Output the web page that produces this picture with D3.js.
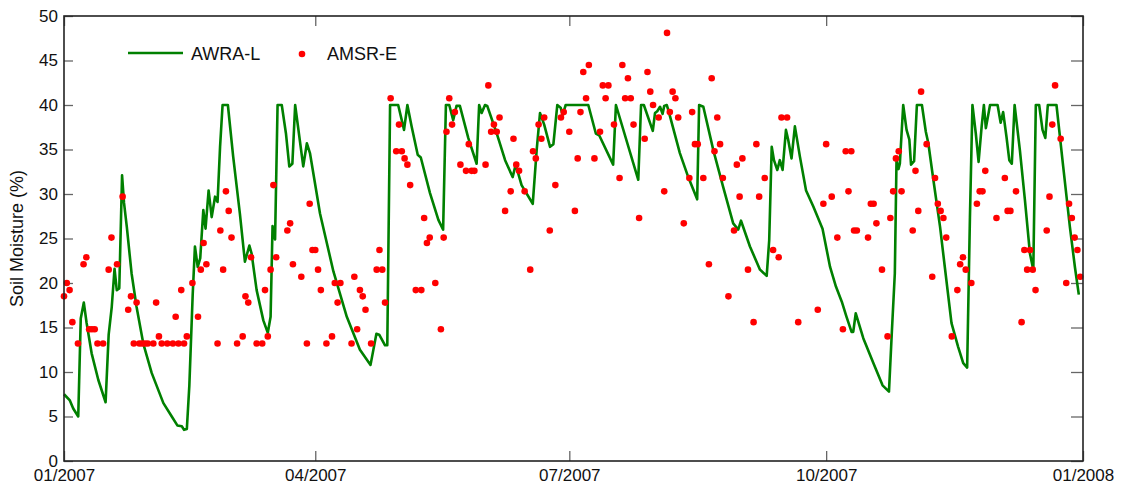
<!DOCTYPE html>
<html>
<head>
<meta charset="utf-8">
<script src="https://cdn.jsdelivr.net/npm/d3@7"></script>
<style>
	html, body { margin: 0; padding: 0; background: #fff; }
	svg { display: block; font-family: 'Liberation Sans', Arial, sans-serif; }
</style>
</head>
<body>
<div id="chart"></div>
<script>
// AWRA-L modelled soil moisture (day of 2007, value %)
const awraDays = [0, 2.1, 3.3, 5.1, 6.0, 7.1, 8.1, 9.9, 12.3, 14.9, 16.0, 17.1, 18.1, 18.9, 19.8, 20.8, 21.5, 22.5, 24.2, 26.0, 28.4, 31.4, 35.6, 38.6, 40.6, 42.2, 43.0, 44.0, 44.9, 46.1, 46.9, 47.9, 48.8, 49.9, 50.7, 51.8, 52.9, 54.1, 55.0, 55.9, 56.8, 58.7, 60.6, 63.0, 64.8, 66.4, 67.2, 69.0, 71.4, 73.0, 74.0, 74.7, 75.6, 76.5, 78.0, 79.5, 80.7, 81.8, 82.8, 85.7, 87.0, 88.1, 91.7, 96.5, 101.3, 106.0, 109.8, 111.9, 112.9, 115.0, 115.8, 116.8, 119.7, 121.8, 123.0, 124.5, 126.7, 127.8, 131.1, 134.1, 135.8, 136.8, 138.0, 139.4, 140.6, 141.8, 144.8, 147.8, 148.7, 149.6, 150.8, 151.6, 155.0, 158.0, 160.7, 161.8, 163.9, 167.9, 169.3, 170.5, 172.0, 174.1, 175.3, 176.7, 177.9, 178.6, 179.7, 187.8, 190.5, 191.7, 196.7, 197.7, 205.7, 206.7, 207.7, 210.9, 211.7, 212.5, 213.5, 214.4, 215.0, 215.9, 216.5, 220.6, 223.6, 226.8, 227.5, 229.0, 232.6, 236.1, 239.7, 241.5, 242.5, 245.7, 249.3, 251.7, 252.6, 253.5, 254.3, 255.5, 256.4, 257.4, 258.6, 259.4, 260.6, 261.8, 263.6, 265.8, 268.4, 271.7, 274.4, 276.5, 278.6, 280.3, 282.1, 282.7, 283.6, 286.3, 289.9, 293.2, 295.5, 296.5, 297.6, 298.2, 298.9, 299.4, 300.6, 301.8, 302.8, 303.4, 304.5, 305.5, 307.3, 308.7, 309.6, 311.4, 313.8, 315.5, 317.9, 320.3, 322.1, 323.5, 324.5, 325.4, 326.6, 327.6, 328.7, 329.5, 330.2, 331.7, 334.4, 335.5, 336.4, 337.6, 338.6, 339.5, 340.5, 342.4, 344.2, 346.0, 347.2, 348.1, 349.3, 350.5, 351.5, 352.4, 355.5, 357.9, 360.3, 362.1, 363.5]
const awraValues = [7.5, 6.8, 5.9, 5.0, 16.0, 17.8, 15.5, 12.1, 9.1, 6.6, 14.2, 17.3, 21.6, 19.2, 19.4, 32.1, 29.0, 26.3, 21.1, 17.3, 13.2, 9.9, 6.5, 5.0, 4.0, 3.9, 3.5, 3.6, 8.5, 18.7, 24.1, 21.8, 22.8, 28.2, 26.1, 30.4, 27.4, 29.7, 29.1, 35.3, 40.0, 40.0, 34.2, 27.8, 22.4, 24.2, 23.3, 19.2, 15.8, 14.4, 16.2, 26.4, 24.9, 40.0, 40.0, 36.8, 33.1, 33.4, 40.0, 33.1, 35.7, 34.6, 27.8, 21.3, 16.2, 12.5, 10.8, 14.3, 14.2, 13.0, 13.0, 40.0, 40.0, 37.2, 40.0, 37.6, 34.4, 34.1, 30.1, 27.1, 26.0, 40.0, 40.0, 38.3, 39.9, 39.9, 36.3, 33.4, 40.0, 39.1, 40.0, 39.9, 36.8, 33.8, 31.9, 33.3, 31.0, 28.9, 34.9, 39.1, 37.8, 35.3, 35.6, 40.0, 39.7, 38.9, 40.0, 40.0, 36.8, 36.6, 33.3, 40.0, 31.6, 40.0, 40.0, 37.1, 39.1, 39.3, 39.8, 39.0, 39.9, 40.0, 39.4, 34.6, 31.9, 29.4, 40.0, 39.8, 34.9, 30.8, 26.7, 26.0, 27.0, 24.1, 21.5, 20.8, 24.8, 35.3, 33.8, 32.7, 33.8, 32.7, 37.2, 36.1, 34.0, 37.6, 34.2, 30.4, 28.6, 26.1, 21.8, 19.6, 17.9, 16.2, 14.5, 14.5, 16.6, 13.8, 11.0, 8.5, 7.8, 14.3, 21.1, 33.8, 32.8, 33.4, 40.0, 37.2, 36.1, 33.3, 33.7, 40.0, 40.0, 37.0, 35.7, 31.6, 26.3, 21.8, 15.5, 12.8, 11.0, 10.5, 27.4, 40.0, 36.8, 33.6, 37.6, 40.0, 37.4, 40.0, 40.0, 38.0, 39.2, 36.4, 33.8, 33.4, 40.0, 34.9, 29.3, 23.3, 21.5, 40.0, 40.0, 37.2, 36.3, 40.0, 40.0, 33.1, 26.3, 21.8, 18.7]

// AMSR-E retrievals (day of 2007, value %)
const amsrDays = [0, 1, 2, 3, 5, 7, 8, 9, 10, 11, 12, 14, 16, 17, 19, 21, 23, 24, 25, 26, 27, 28, 29, 30, 32, 33, 34, 35, 37, 39, 40, 41, 42, 43, 44, 46, 48, 49, 50, 51, 55, 56, 57, 58, 59, 60, 62, 64, 65, 66, 67, 69, 71, 72, 73, 74, 75, 76, 80, 81, 82, 85, 87, 88, 89, 90, 91, 92, 94, 96, 97, 98, 99, 103, 104, 105, 106, 107, 108, 110, 112, 113, 114, 115, 117, 119, 120, 121, 122, 123, 124, 126, 128, 129, 130, 131, 133, 135, 136, 137, 138, 139, 140, 142, 144, 145, 146, 147, 151, 152, 153, 154, 155, 156, 158, 160, 161, 162, 163, 165, 167, 168, 169, 170, 171, 172, 174, 176, 178, 179, 181, 183, 184, 185, 186, 187, 188, 190, 192, 193, 194, 195, 197, 199, 200, 201, 202, 203, 204, 206, 208, 209, 210, 211, 213, 215, 216, 217, 218, 219, 220, 222, 224, 225, 226, 227, 229, 231, 232, 233, 234, 235, 236, 238, 240, 241, 242, 243, 245, 247, 248, 249, 251, 254, 256, 257, 259, 263, 270, 272, 273, 275, 277, 279, 280, 281, 282, 283, 284, 288, 289, 290, 291, 293, 295, 296, 297, 298, 299, 300, 304, 305, 306, 307, 309, 311, 312, 313, 314, 315, 316, 318, 320, 321, 322, 323, 325, 327, 328, 329, 330, 334, 337, 338, 339, 341, 343, 344, 345, 346, 347, 348, 352, 353, 354, 355, 357, 359, 360, 361, 362, 363, 364]
const amsrValues = [18.5, 20.0, 19.2, 15.6, 13.2, 22.1, 22.9, 14.8, 14.8, 14.8, 13.2, 13.2, 21.5, 25.1, 22.1, 29.7, 17.0, 18.5, 13.2, 17.8, 13.2, 13.2, 13.2, 13.2, 13.2, 17.8, 14.0, 13.2, 13.2, 13.2, 16.2, 13.2, 19.2, 13.2, 14.0, 20.0, 16.2, 21.5, 24.5, 22.1, 13.2, 25.9, 21.5, 30.3, 28.1, 25.1, 13.2, 14.0, 18.5, 17.8, 22.9, 13.2, 13.2, 19.2, 14.0, 21.5, 31.0, 22.9, 25.9, 26.7, 22.1, 20.7, 13.2, 28.9, 23.7, 23.7, 21.5, 19.2, 13.2, 14.0, 20.0, 17.8, 20.0, 13.2, 20.7, 14.8, 19.2, 18.5, 17.0, 13.2, 21.5, 23.7, 21.5, 17.8, 40.75, 34.8, 37.8, 34.8, 34.0, 33.3, 31.0, 19.2, 19.2, 27.3, 24.5, 25.1, 20.0, 14.8, 25.1, 37.0, 40.75, 37.8, 39.2, 33.3, 32.6, 35.6, 32.6, 32.6, 33.3, 42.2, 37.0, 37.8, 37.0, 38.6, 28.1, 30.3, 36.2, 33.3, 32.6, 30.3, 21.5, 34.8, 34.0, 37.8, 36.2, 38.6, 25.9, 31.0, 38.6, 39.2, 37.0, 28.1, 34.0, 39.2, 43.7, 40.75, 44.5, 34.0, 37.0, 42.2, 40.75, 42.2, 37.8, 31.8, 44.5, 40.75, 43.0, 40.75, 37.8, 27.3, 36.2, 43.7, 41.5, 40.0, 38.6, 30.3, 48.1, 39.2, 41.5, 40.75, 38.6, 26.7, 31.8, 39.2, 35.6, 35.6, 31.8, 22.1, 43.0, 34.8, 38.6, 35.6, 31.8, 18.5, 25.9, 33.3, 29.7, 34.0, 21.5, 15.6, 35.6, 29.7, 31.8, 23.7, 22.9, 38.6, 38.6, 15.6, 17.0, 28.9, 35.6, 29.7, 25.1, 14.8, 34.8, 30.3, 34.8, 25.9, 25.9, 25.1, 28.9, 28.9, 26.7, 21.5, 14.0, 27.3, 30.3, 34.0, 34.8, 30.3, 25.9, 32.6, 28.1, 41.5, 35.6, 20.7, 31.8, 28.9, 28.1, 27.3, 25.1, 14.0, 19.2, 22.1, 22.9, 21.5, 20.0, 28.9, 30.3, 30.3, 32.6, 27.3, 31.8, 28.1, 28.1, 30.3, 15.6, 23.7, 21.5, 23.7, 21.5, 19.2, 25.9, 29.7, 37.8, 42.2, 36.2, 20.0, 28.9, 27.3, 25.1, 23.7, 20.7]

const seriesNames = ['AWRA-L', 'AMSR-E']
const xTickDates = ['2007-01-01', '2007-04-01', '2007-07-01', '2007-10-01', '2008-01-01']
const xTickLabels = ['01/2007', '04/2007', '07/2007', '10/2007', '01/2008']
const yTicks = [0, 5, 10, 15, 20, 25, 30, 35, 40, 45, 50]

;(() => {
	const width = 1123
	const height = 487
	const margins = { top: 16, left: 64, bottom: 26, right: 40 }
	const innerWidth = width - margins.left - margins.right
	const innerHeight = height - margins.top - margins.bottom

	const start = new Date(2007, 0, 1)
	const toDate = (day) => new Date(start.getTime() + day * 864e5)
	const parseTick = (s) => new Date(...s.split('-').map((v, i) => i === 1 ? v - 1 : +v))

	const awra = awraDays.map((d, i) => ({ date: toDate(d), value: awraValues[i] }))
	const amsr = amsrDays.map((d, i) => ({ date: toDate(d), value: amsrValues[i] }))
	const tickDates = xTickDates.map(parseTick)

	const scaleX = d3.scaleTime()
		.domain([tickDates[0], tickDates[tickDates.length - 1]])
		.range([0, innerWidth])

	const scaleY = d3.scaleLinear()
		.domain([0, 50])
		.range([innerHeight, 0])

	const svg = d3.select('#chart')
		.append('svg')
		.attr('width', width)
		.attr('height', height)
		.attr('viewBox', `0 0 ${width} ${height}`)

	const g = svg.append('g')
		.attr('transform', `translate(${margins.left}, ${margins.top})`)

	const labelFor = (d) => xTickLabels[tickDates.findIndex((t) => +t === +d)]

	// axes, ticks point into the plot on all four sides
	g.append('g')
		.attr('class', 'axis')
		.attr('transform', `translate(0, ${innerHeight})`)
		.call(d3.axisBottom(scaleX).tickValues(tickDates).tickFormat(labelFor).tickSize(-10).tickSizeOuter(0).tickPadding(8))

	g.append('g')
		.attr('class', 'axis')
		.call(d3.axisTop(scaleX).tickValues(tickDates).tickFormat('').tickSize(-10).tickSizeOuter(0))

	g.append('g')
		.attr('class', 'axis')
		.call(d3.axisLeft(scaleY).tickValues(yTicks).tickSize(-9).tickSizeOuter(0).tickPadding(6))

	g.append('g')
		.attr('class', 'axis')
		.attr('transform', `translate(${innerWidth}, 0)`)
		.call(d3.axisRight(scaleY).tickValues(yTicks).tickFormat('').tickSize(-12).tickSizeOuter(0))

	g.selectAll('.axis .domain').remove()
	g.selectAll('.axis .tick line')
		.attr('stroke', '#666')
		.attr('stroke-width', 1.3)
	g.selectAll('.axis .tick text')
		.attr('fill', '#111')
		.style('font-size', '17px')

	// series
	const line = d3.line()
		.x((d) => scaleX(d.date))
		.y((d) => scaleY(d.value))

	g.append('path')
		.datum(awra)
		.attr('fill', 'none')
		.attr('stroke', '#008000')
		.attr('stroke-width', 2.6)
		.attr('stroke-linejoin', 'round')
		.attr('d', line)

	g.append('g')
		.selectAll('circle')
		.data(amsr)
		.enter()
		.append('circle')
		.attr('cx', (d) => scaleX(d.date))
		.attr('cy', (d) => scaleY(d.value))
		.attr('r', 3.3)
		.attr('fill', '#ff0000')

	// frame
	g.append('rect')
		.attr('width', innerWidth)
		.attr('height', innerHeight)
		.attr('fill', 'none')
		.attr('stroke', '#222')
		.attr('stroke-width', 1.6)

	// y title
	svg.append('text')
		.text('Soil Moisture (%)')
		.attr('text-anchor', 'middle')
		.attr('transform', `translate(23, ${margins.top + innerHeight / 2}) rotate(-90)`)
		.attr('fill', '#111')
		.style('font-size', '18px')

	// legend
	const legend = svg.append('g')
		.attr('transform', 'translate(128, 53)')

	legend.append('line')
		.attr('x1', 0)
		.attr('x2', 55)
		.attr('stroke', '#008000')
		.attr('stroke-width', 2.6)

	legend.append('text')
		.text(seriesNames[0])
		.attr('x', 63)
		.attr('y', 6.5)
		.attr('fill', '#111')
		.style('font-size', '18px')

	legend.append('circle')
		.attr('cx', 174)
		.attr('cy', 1)
		.attr('r', 3.3)
		.attr('fill', '#ff0000')

	legend.append('text')
		.text(seriesNames[1])
		.attr('x', 199)
		.attr('y', 6.5)
		.attr('fill', '#111')
		.style('font-size', '18px')
})()
</script>
</body>
</html>
